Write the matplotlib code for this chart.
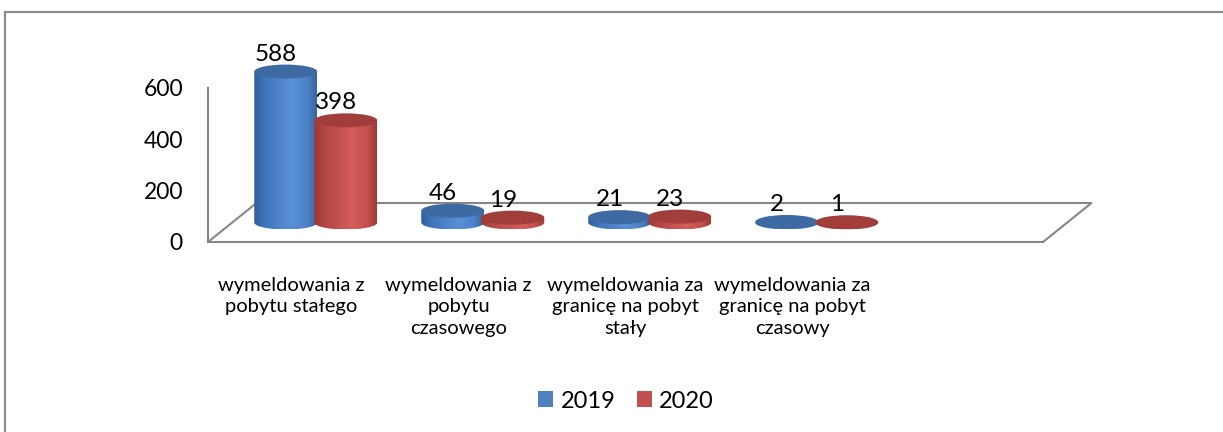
import numpy as np
import matplotlib
matplotlib.use("Agg")
import matplotlib.pyplot as plt
from matplotlib.path import Path
from matplotlib.patches import PathPatch, Ellipse, Patch
from matplotlib.colors import LinearSegmentedColormap
from matplotlib.lines import Line2D

plt.rcParams['font.family'] = ['Lato', 'DejaVu Sans']

# ---- data ----
categories = ["wymeldowania z\npobytu stałego",
              "wymeldowania z\npobytu\nczasowego",
              "wymeldowania za\ngranicę na pobyt\nstały",
              "wymeldowania za\ngranicę na pobyt\nczasowy",
              ""]
series_names = ["2019", "2020"]
values_2019 = [588, 46, 21, 2]
values_2020 = [398, 19, 23, 1]
yticks = [0, 200, 400, 600]

# ---- layout (pixel-based scales) ----
W, H = 1223, 432
DPI = 100
PX_X = 167.0            # pixels per category slot
X0_PX = 208.0           # pixel of the front-left corner
PX_V = 154.0 / 600.0    # pixels per value unit
Y0_PX = 242.0           # pixel row (from top) of value 0 (front plane)

fig = plt.figure(figsize=(W / DPI, H / DPI), dpi=DPI)
ax = fig.add_axes([0, 0, 1, 1])
xlim = (-X0_PX / PX_X, (W - X0_PX) / PX_X)
ylim = (-(H - Y0_PX) / PX_V, Y0_PX / PX_V)

def px2x(p):
    return p / PX_X

def px2v(p):
    return p / PX_V

n_slots = len(categories)
depth_dx = px2x(48.5)
depth_dy = px2v(39.0)
grid_col = '#868686'

# floor parallelogram (back part)
ax.plot([0, depth_dx, n_slots + depth_dx, n_slots], [0, depth_dy, depth_dy, 0],
        color=grid_col, lw=1.5, zorder=1, solid_capstyle='butt')

# axes spines
for s in ['top', 'right']:
    ax.spines[s].set_visible(False)
ax.spines['left'].set_position(('data', 0))
ax.spines['left'].set_bounds(0, 600)
ax.spines['bottom'].set_position(('data', 0))
ax.spines['bottom'].set_bounds(0, n_slots)
for s in ['left', 'bottom']:
    ax.spines[s].set_color(grid_col)
    ax.spines[s].set_linewidth(1.5)
    ax.spines[s].set_zorder(1)

ax.set_yticks(yticks)
ax.set_yticklabels([str(t) for t in yticks], fontsize=16.5)
ax.tick_params(axis='y', length=0, pad=18)
ax.set_xticks(np.arange(len(categories) - 1) + 0.5)
ax.set_xticklabels(categories[:-1], fontsize=14.5)
ax.tick_params(axis='x', length=0, pad=25)
for lab in ax.get_xticklabels():
    lab.set_linespacing(1.33)

# ---- cylinders ----
half_w = px2x(31.5)
pair_off = px2x(30.0)
eh = px2v(7.0)
base = depth_dy / 2.0

blue_cmap = LinearSegmentedColormap.from_list(
    'b', [(0, '#2E5D9B'), (0.15, '#3F73B8'), (0.6, '#5A90D8'), (0.85, '#4C80C6'), (1, '#35649F')])
red_cmap = LinearSegmentedColormap.from_list(
    'r', [(0, '#9A3734'), (0.15, '#B04643'), (0.6, '#D55D5A'), (0.85, '#C4504D'), (1, '#9E3B38')])
top_cols = ['#3D6AA3', '#A13E3B']
cmaps = [blue_cmap, red_cmap]

grad = np.linspace(0, 1, 256).reshape(1, -1)

def cylinder(cx, val, cmap, topc):
    yb = base
    yt = base + val
    t = np.linspace(np.pi, 2 * np.pi, 60)
    xs = cx + half_w * np.cos(t)
    ys = yb + eh * np.sin(t)
    verts = [(cx - half_w, yt)] + list(zip(xs, ys)) + [(cx + half_w, yt), (cx - half_w, yt)]
    codes = [Path.MOVETO] + [Path.LINETO] * (len(verts) - 2) + [Path.CLOSEPOLY]
    patch = PathPatch(Path(verts, codes), facecolor='none', edgecolor='none', zorder=3)
    ax.add_patch(patch)
    im = ax.imshow(grad, cmap=cmap, extent=[cx - half_w, cx + half_w, yb - eh, yt],
                   aspect='auto', interpolation='bilinear', zorder=3)
    im.set_clip_path(patch)
    ax.add_patch(Ellipse((cx, yt), 2 * half_w, 2 * eh, facecolor=topc,
                         edgecolor='none', zorder=3.1))

all_vals = [values_2019, values_2020]
for i in range(len(values_2019)):
    pc = i + 0.5 + depth_dx / 2.0
    for k, vals in enumerate(all_vals):
        cx = pc + (-pair_off if k == 0 else pair_off)
        cylinder(cx, vals[i], cmaps[k], top_cols[k])
        ax.text(cx - px2x(10), base + vals[i] + eh, str(vals[i]), ha='center',
                va='bottom', fontsize=17.5, zorder=5)

ax.set_xlim(*xlim)
ax.set_ylim(*ylim)
ax.set_aspect('auto')

# ---- legend ----
handles = [Patch(facecolor='#4F81BD', edgecolor='none'),
           Patch(facecolor='#C0504D', edgecolor='none')]
fig.legend(handles, series_names, loc='center', bbox_to_anchor=(626 / W, 1 - 401 / H),
           ncol=2, frameon=False, fontsize=17, handlelength=0.64, handleheight=0.64,
           handletextpad=0.3, columnspacing=0.9)

# ---- outer frame ----
fig.add_artist(Line2D([4.5 / W, 4.5 / W], [0, 1 - 12 / H], color='#8C8C8C', lw=1.6,
                      transform=fig.transFigure))
fig.add_artist(Line2D([4.5 / W, 1], [1 - 12 / H, 1 - 12 / H], color='#8C8C8C', lw=1.6,
                      transform=fig.transFigure))

fig.savefig('out.png', dpi=DPI)
